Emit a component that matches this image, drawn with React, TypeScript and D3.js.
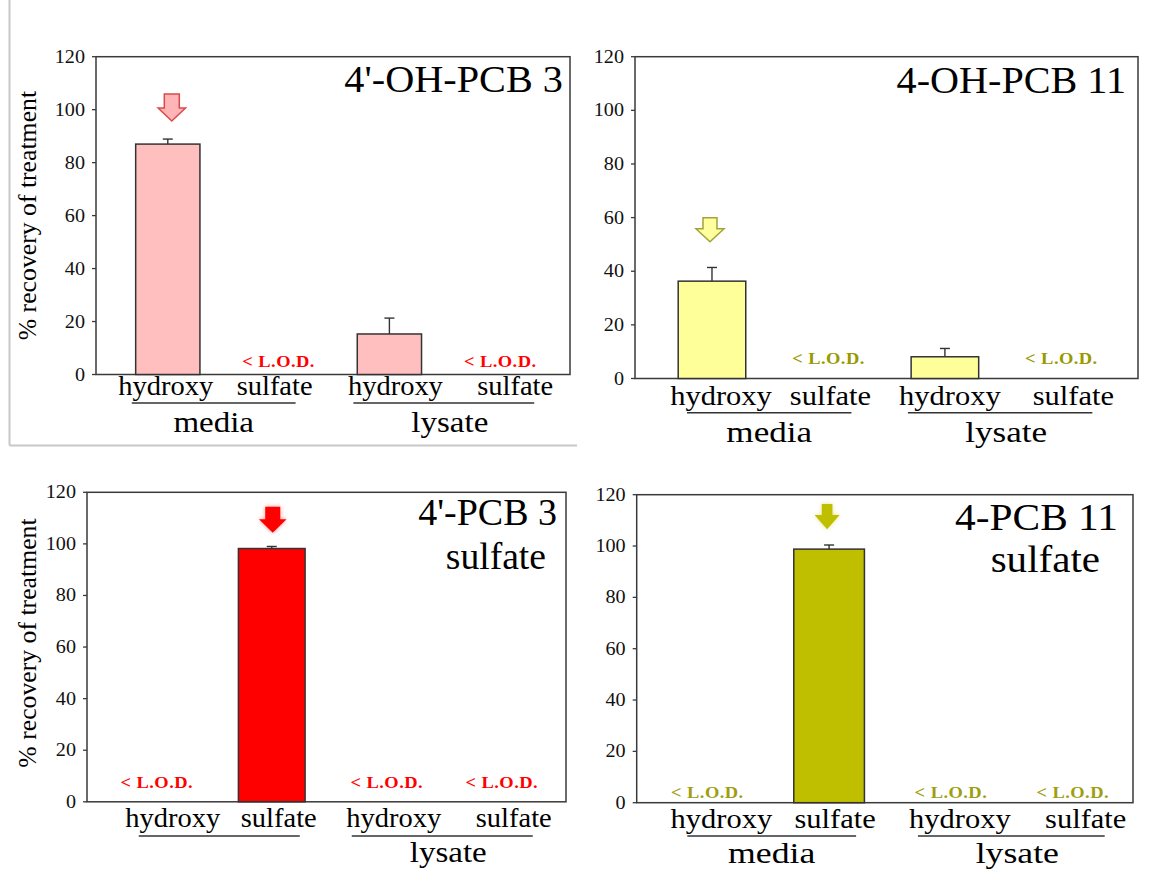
import React from "react";
import * as d3 from "d3";

// ---- data -------------------------------------------------------------
const categoryKeys = ["media-hydroxy", "media-sulfate", "lysate-hydroxy", "lysate-sulfate"];
const categoryLabels = ["hydroxy", "sulfate", "hydroxy", "sulfate"];
const yTicks = [0, 20, 40, 60, 80, 100, 120];
const yMax = 120;
const yAxisTitle = "% recovery of treatment";
const lodLabel = "< L.O.D.";

// % recovery per category; null = below the limit of detection
const ohPcb3Values = [87.0, null, 15.3, null];
const ohPcb3Errors = [1.9, null, 6.0, null];
const ohPcb11Values = [36.3, null, 8.1, null];
const ohPcb11Errors = [5.1, null, 3.1, null];
const pcb3SulfateValues = [null, 98.2, null, null];
const pcb3SulfateErrors = [null, 0.8, null, null];
const pcb11SulfateValues = [null, 98.8, null, null];
const pcb11SulfateErrors = [null, 1.6, null, null];

const panelTitles = ["4'-OH-PCB 3", "4-OH-PCB 11", "4'-PCB 3", "4-PCB 11"];
const panelSubtitles = [null, null, "sulfate", "sulfate"];
const panelGroupLabels = [
  ["media", "lysate"],
  ["media", "lysate"],
  [null, "lysate"],
  ["media", "lysate"],
];
const arrowTargets = [0, 0, 1, 1];

// ---- layout -----------------------------------------------------------
const FONT = "\"Liberation Serif\", \"DejaVu Serif\", serif";
const AXIS_COLOR = "#3a3a3a";

type Layout = {
  left: number; top: number; right: number; bottom: number;
  band: [number, number];
  labelDx: number[];
  catDy: number; lineDy: number; groupDy: number;
  titleEnd: number; titleY: number; subEnd: number; subY: number;
  lodDy: number;
  catSx: number; groupSx: number; titleSx: number; subSx: number;
  barFill: string; lodFill: string;
  arrow: { dx: number; gap: number; hw: number; sw: number; shaft: number; head: number; fill: string; stroke: string; glow: boolean };
  yTitle: boolean; yTitleDy: number;
};

const layouts: Layout[] = [
  {
    left: 96, top: 56.7, right: 570, bottom: 374.5, band: [112.4, 555.6],
    labelDx: [-2, -4, 6, 15], catDy: 20.5, lineDy: 28.5, groupDy: 57.5,
    titleEnd: 563, titleY: 92, subEnd: 0, subY: 0, lodDy: 7.5,
    catSx: 1.055, groupSx: 1.1, titleSx: 1.06, subSx: 1,
    barFill: "#FFBFBF", lodFill: "#FF0000",
    arrow: { dx: 4, gap: 18, hw: 13.7, sw: 7.5, shaft: 14, head: 13, fill: "#FFB5B5", stroke: "#D94A4A", glow: false },
    yTitle: true, yTitleDy: 0,
  },
  {
    left: 635, top: 56.7, right: 1138, bottom: 378.5, band: [653.75, 1119.6],
    labelDx: [9, 2, 5, 12], catDy: 26.5, lineDy: 34.2, groupDy: 63.5,
    titleEnd: 1126, titleY: 93, subEnd: 0, subY: 0, lodDy: 14.5,
    catSx: 1.13, groupSx: 1.17, titleSx: 1.057, subSx: 1,
    barFill: "#FFFF99", lodFill: "#999900",
    arrow: { dx: -2, gap: 25.7, hw: 14, sw: 7, shaft: 11, head: 13, fill: "#FFFF9E", stroke: "#A3A33A", glow: false },
    yTitle: false, yTitleDy: 0,
  },
  {
    left: 87, top: 492.3, right: 566, bottom: 801.8, band: [99.25, 559.25],
    labelDx: [16, 7, 7, 12], catDy: 25, lineDy: 34.2, groupDy: 60,
    titleEnd: 557, titleY: 525, subEnd: 546, subY: 569, lodDy: 14,
    catSx: 1.055, groupSx: 1.1, titleSx: 1.0, subSx: 0.99,
    barFill: "#FF0000", lodFill: "#FF0000",
    arrow: { dx: 1, gap: 13.6, hw: 13.8, sw: 7.5, shaft: 12.3, head: 13.7, fill: "#FF0000", stroke: "none", glow: true },
    yTitle: true, yTitleDy: -4,
  },
  {
    left: 636.7, top: 494.7, right: 1133, bottom: 802.7, band: [646.4, 1133.6],
    labelDx: [14, 6, 9, 13], catDy: 25.3, lineDy: 33.3, groupDy: 60.3,
    titleEnd: 1118, titleY: 530, subEnd: 1100, subY: 571.7, lodDy: 4.5,
    catSx: 1.13, groupSx: 1.19, titleSx: 1.09, subSx: 1.08,
    barFill: "#BFBF00", lodFill: "#9E9E10",
    arrow: { dx: -2, gap: 15.7, hw: 12.5, sw: 5.3, shaft: 11, head: 14.3, fill: "#BFBF00", stroke: "none", glow: true },
    yTitle: false, yTitleDy: 0,
  },
];

const panelValues = [ohPcb3Values, ohPcb11Values, pcb3SulfateValues, pcb11SulfateValues];
const panelErrors = [ohPcb3Errors, ohPcb11Errors, pcb3SulfateErrors, pcb11SulfateErrors];

// text horizontally scaled around its anchor point
function SText(props: {
  x: number; y: number; sx?: number; rotate?: number; size: number; spacing?: number;
  anchor?: "start" | "middle" | "end"; weight?: string | number; fill?: string; children: React.ReactNode;
}) {
  const { x, y, sx = 1, rotate, size, spacing = 0, anchor = "middle", weight = "normal", fill = "#000", children } = props;
  const t = `translate(${x},${y})${rotate ? ` rotate(${rotate})` : ""} scale(${sx},1)`;
  return (
    <text
      transform={t}
      textAnchor={anchor}
      fill={fill}
      style={{ fontFamily: FONT, fontSize: `${size}px`, fontWeight: weight as any, letterSpacing: `${spacing}px` }}
    >
      {children}
    </text>
  );
}

function arrowPath(cx: number, tip: number, a: Layout["arrow"]) {
  const y1 = tip - a.head;
  const y0 = y1 - a.shaft;
  return `M${cx - a.sw},${y0} L${cx + a.sw},${y0} L${cx + a.sw},${y1} L${cx + a.hw},${y1} L${cx},${tip} L${cx - a.hw},${y1} L${cx - a.sw},${y1} Z`;
}

function Panel({ index }: { index: number }) {
  const L = layouts[index];
  const values = panelValues[index];
  const errors = panelErrors[index];
  const x = d3.scaleBand<string>().domain(categoryKeys).range(L.band).paddingInner(0.42).paddingOuter(0.21);
  const y = d3.scaleLinear().domain([0, yMax]).range([L.bottom, L.top]);
  const bw = x.bandwidth();
  const cx = (i: number) => (x(categoryKeys[i]) as number) + bw / 2;

  const labelX = categoryKeys.map((_, i) => cx(i) + L.labelDx[i]);
  const lines = [
    [labelX[0] - 34, labelX[1] + 21],
    [labelX[2] - 42, labelX[3] + 19],
  ];
  const groupShift = [0, 6];

  const ai = arrowTargets[index];
  const av = (values[ai] as number) + ((errors[ai] as number) || 0);
  const arrowD = arrowPath(cx(ai) + L.arrow.dx, y(av) - L.arrow.gap, L.arrow);

  return (
    <g>
      {/* frame */}
      <rect x={L.left} y={L.top} width={L.right - L.left} height={L.bottom - L.top} fill="#fff" stroke={AXIS_COLOR} strokeWidth={1.5} />
      {/* y ticks */}
      {yTicks.map((t) => (
        <g key={t}>
          <line x1={L.left - 4} x2={L.left} y1={y(t)} y2={y(t)} stroke={AXIS_COLOR} strokeWidth={1.3} />
          <SText x={L.left - 11} y={y(t) + 6} sx={1.12} size={18} anchor="end" fill="#111">{t}</SText>
        </g>
      ))}
      {/* bars, error bars, LOD notes */}
      {categoryKeys.map((k, i) => {
        const v = values[i];
        if (v === null) {
          return (
            <SText key={k} x={cx(i)} y={L.bottom - L.lodDy} sx={1.12} size={16.5} spacing={0.4} weight="bold" fill={L.lodFill}>{lodLabel}</SText>
          );
        }
        const e = errors[i] as number;
        const x0 = x(k) as number;
        return (
          <g key={k}>
            <line x1={cx(i)} x2={cx(i)} y1={y(v)} y2={y(v + e)} stroke="#333" strokeWidth={1.4} />
            <line x1={cx(i) - 5} x2={cx(i) + 5} y1={y(v + e)} y2={y(v + e)} stroke="#333" strokeWidth={1.4} />
            <rect x={x0} y={y(v)} width={bw} height={L.bottom - y(v)} fill={L.barFill} stroke="#333" strokeWidth={1.5} />
          </g>
        );
      })}
      {/* arrow marking the administered compound */}
      {L.arrow.glow && (
        <path d={arrowD} fill={L.arrow.fill} opacity={0.45} filter="url(#arrowGlow)" />
      )}
      <path d={arrowD} fill={L.arrow.fill} stroke={L.arrow.stroke} strokeWidth={1.5} strokeLinejoin="miter" />
      {/* category labels */}
      {categoryLabels.map((c, i) => (
        <SText key={i} x={labelX[i]} y={L.bottom + L.catDy} sx={L.catSx} size={27}>{c}</SText>
      ))}
      {/* group brackets and names */}
      {lines.map(([a, b], g) => (
        <g key={g}>
          <line x1={a} x2={b} y1={L.bottom + L.lineDy} y2={L.bottom + L.lineDy} stroke="#333" strokeWidth={1.5} />
          {panelGroupLabels[index][g] && (
            <SText x={(a + b) / 2 + groupShift[g]} y={L.bottom + L.groupDy} sx={L.groupSx} size={30}>
              {panelGroupLabels[index][g]}
            </SText>
          )}
        </g>
      ))}
      {/* compound name */}
      <SText x={L.titleEnd} y={L.titleY} sx={L.titleSx} size={38} anchor="end">{panelTitles[index]}</SText>
      {panelSubtitles[index] && (
        <SText x={L.subEnd} y={L.subY} sx={L.subSx} size={38} anchor="end">{panelSubtitles[index]}</SText>
      )}
      {L.yTitle && (
        <SText x={36} y={(L.top + L.bottom) / 2 + L.yTitleDy} rotate={-90} sx={1.03} size={25}>{yAxisTitle}</SText>
      )}
    </g>
  );
}

export default function App() {
  return (
    <svg width={1149} height={870} style={{ position: "absolute", left: 0, top: 0, background: "#fff" }}>
      <defs>
        <filter id="arrowGlow" x="-50%" y="-50%" width="200%" height="200%">
          <feGaussianBlur stdDeviation={2} />
        </filter>
      </defs>
      <rect x={0} y={0} width={1149} height={870} fill="#fff" />
      {/* light frame around the first panel */}
      <line x1={9.5} x2={9.5} y1={0} y2={445.5} stroke="#C8C8C8" strokeWidth={2} />
      <line x1={9.5} x2={577} y1={445.5} y2={445.5} stroke="#C8C8C8" strokeWidth={2} />
      {layouts.map((_, i) => (
        <Panel key={i} index={i} />
      ))}
    </svg>
  );
}
